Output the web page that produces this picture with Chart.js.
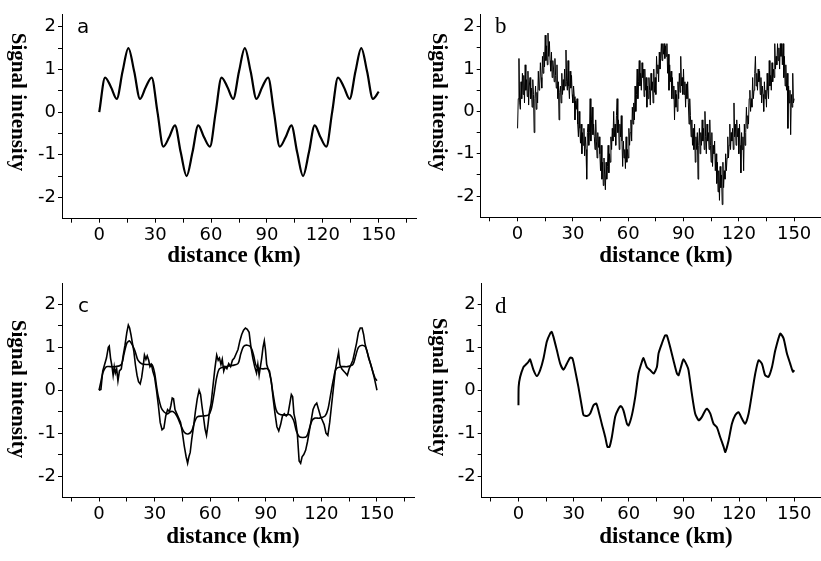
<!DOCTYPE html>
<html>
<head>
<meta charset="utf-8">
<script src="https://cdn.jsdelivr.net/npm/chart.js@4/dist/chart.umd.min.js"></script>
<style>
  html, body { margin: 0; padding: 0; background: #fff; }
  #page { position: relative; width: 821px; height: 561px; overflow: hidden; background: #fff; }
  canvas { position: absolute; }
</style>
</head>
<body>
<div id="page">
  <canvas id="chartA" width="420" height="270" style="left:0px;top:0px;"></canvas>
  <canvas id="chartB" width="430" height="270" style="left:410px;top:0px;"></canvas>
  <canvas id="chartC" width="420" height="291" style="left:0px;top:270px;"></canvas>
  <canvas id="chartD" width="430" height="291" style="left:410px;top:270px;"></canvas>
</div>
<script>
// axis ticks (km and signal units)
const xMajorTicks = [0, 30, 60, 90, 120, 150];
const xMinorTicks = [-15, 15, 45, 75, 105, 135, 165];
const yTickValues = [-2, -1.5, -1, -0.5, 0, 0.5, 1, 1.5, 2];

// a: clean signal, one reading every 3.125 km
const aStepKm = 3.125;
const aSignal = [
    0, 0.81, 0.59, 0.31, 0.95, 1.5, 0.95, 0.31, 0.59, 0.81,
    0, -0.81, -0.59, -0.31, -0.95, -1.5, -0.95, -0.31, -0.59, -0.81,
    0, 0.81, 0.59, 0.31, 0.95, 1.5, 0.95, 0.31, 0.59, 0.81,
    0, -0.81, -0.59, -0.31, -0.95, -1.5, -0.95, -0.31, -0.59, -0.81,
    0, 0.81, 0.59, 0.31, 0.95, 1.5, 0.95, 0.31, 0.48
];

// b: noisy signal, one reading every 0.375 km (8 readings per row = 3 km)
const bStepKm = 0.375;
const bSignal = [
    -0.4, 0.3, 1.25, 0.2, 0.05, 0.7, 0.3, 0.9,
    0.4, 0.85, 0.2, 1.1, 0.5, 0.75, 0.35, 0.95,
    0.15, 0.6, 0.8, 0.3, 0.55, 0.1, 0.75, 0.4,
    -0.5, 0.3, 0.6, 0.05, 0.45, 0.2, 0.95, 0.5,
    0.6, 1.15, 0.8, 0.55, 1.3, 0.9, 1.4, 1.05,
    1.8, 1.2, 1.55, 1.1, 1.85, 1.3, 1.65, 1.2,
    0.95, 1.4, 0.8, 1.2, 1.0, 0.7, 1.25, 0.85,
    0.55, 1.1, 0.3, 0.7, -0.2, 0.45, 0.6, 0.2,
    0.9, 0.4, 0.75, 0.5, 1.0, 0.6, 1.45, 0.7,
    0.5, 1.2, 0.6, 0.3, 0.95, 0.55, 0.85, 0.4,
    0.2, 0.6, 0.35, -0.2, 0.25, 0.05, 0.3, -0.3,
    -0.6, 0.0, -0.4, -0.75, -0.3, -1.0, -0.5, -0.8,
    -0.4, -1.05, -0.6, -0.9, -1.6, -0.5, -0.3, -0.8,
    -0.5, 0.3, -0.7, -0.2, 0.1, -0.55, -0.3, -0.6,
    -0.9, -0.2, -0.7, -1.1, -0.5, -0.85, -0.6, -1.0,
    -1.4, -0.8, -1.6, -1.2, -1.75, -1.1, -1.5, -1.85,
    -1.2, -1.6, -1.3, -0.8, -1.45, -1.0, -1.2, -0.6,
    -0.9, -0.4, -0.7, 0.0, -0.6, -0.3, -0.8, -0.1,
    0.3, -0.5, -0.2, -0.9, -0.3, -0.6, -0.1, -0.7,
    -1.3, -0.7, -1.1, -0.9, -1.35, -0.6, -1.2, -0.9,
    -1.1, -0.4, -0.8, -0.5, -0.2, -0.7, 0.1, -0.3,
    0.2, -0.2, 0.6, 0.0, 0.4, 1.0, 0.3, 0.7,
    1.2, 0.6, 0.9, 0.5, 1.15, 0.8, 1.0, 0.35,
    1.0, 0.5, 0.8, 0.1, 0.6, 0.3, 0.8, 0.5,
    0.15, 0.9, 0.5, 0.7, 0.2, 1.0, 0.45, 0.8,
    0.4, 1.3, 0.9, 1.1, 0.7, 1.4, 1.0, 1.25,
    1.6, 1.2, 1.6, 1.35, 1.6, 1.25, 1.55, 1.3,
    1.6, 0.9, 1.35, 0.5, 1.1, 0.7, 0.95, 0.3,
    0.8, 0.3, 0.6, -0.2, 0.5, 0.1, 0.4, 0.0,
    0.7, 0.3, 0.9, 0.45, 1.3, 0.6, 0.8, 0.4,
    1.0, 0.4, 0.7, 0.1, 0.65, 0.3, 0.7, 0.2,
    -0.3, 0.3, -0.1, -0.6, -0.2, -0.8, -0.4, -0.9,
    -0.3, -1.2, -0.6, -0.9, -0.5, -1.6, -0.8, -0.4,
    -1.0, -0.5, -0.8, -0.2, -0.7, -0.4, -0.9, 0.0,
    -0.6, -1.0, -0.3, -0.7, -0.5, -0.9, -0.2, -0.8,
    -1.2, -0.5, -1.3, -0.8, -1.0, -0.7, -1.4, -1.0,
    -1.7, -1.2, -1.9, -1.4, -2.1, -1.3, -1.8, -1.5,
    -2.2, -1.2, -1.8, -1.4, -1.6, -1.0, -1.4, -1.1,
    -0.6, -1.1, -0.8, -0.3, -0.9, -0.5, -0.7, -0.4,
    -0.9, 0.2, -0.6, -0.3, -0.8, -0.2, -0.6, -0.4,
    -1.0, -0.3, -0.8, -1.45, -0.5, -0.9, -0.6, -1.4,
    -0.3, -0.8, -0.5, 0.1, -0.4, -0.1, -0.3, 0.3,
    0.5, 0.0, 0.3, 0.1, 0.8, 0.3, 0.5, 0.9,
    1.3, 0.6, 0.9, 0.5, 1.0, 0.7, 0.95, 0.4,
    0.8, 0.2, 0.6, 0.4, 0.0, 0.7, 0.3, 0.5,
    0.1, 0.9, 0.5, 0.3, 1.2, 0.6, 0.85, 0.5,
    1.15, 0.7, 1.0, 0.8, 1.6, 1.0, 1.3, 1.1,
    1.6, 1.2, 1.5, 1.0, 1.6, 1.3, 1.6, 1.1,
    1.6, 0.8, 1.3, 0.6, 1.1, 0.5, 0.9, -0.4,
    0.6, 0.2, 0.5, -0.55, 0.4, 0.1, 0.9, 0.2,
    0.3
];

// c: denoised signal [km, value]
const cDenoised = [
    [0,0],[1,0.02],[2,0.45],[3,0.6],[4,0.75],[5,1.0],[5.5,1.03],[6.2,0.75],[7,0.55],[7.6,0.35],
    [8.2,0.55],[8.8,0.4],[9.5,0.5],[10.2,0.22],[11,0.45],[12,0.5],[13,0.8],[14,1.05],[15,1.35],[15.8,1.52],
    [16.5,1.45],[17.2,1.3],[18,1.1],[18.8,0.9],[19.6,0.6],[20.5,0.35],[21.3,0.2],[22.2,0.15],[23,0.3],[23.8,0.55],
    [24.5,0.82],[25.3,0.72],[26,0.8],[26.8,0.7],[27.5,0.55],[28.3,0.6],[29,0.45],[30,0.3],[31,0.0],[32,-0.35],
    [33,-0.75],[34,-0.92],[35,-0.88],[36,-0.6],[37,-0.45],[38,-0.5],[38.8,-0.35],[39.5,-0.18],[40.2,-0.2],[41,-0.45],
    [42,-0.55],[43,-0.65],[44,-0.75],[45,-1.0],[46,-1.3],[47,-1.55],[47.8,-1.7],[48.5,-1.55],[49.2,-1.45],[50,-1.15],
    [51,-0.85],[52,-0.5],[53,-0.2],[54,0.0],[54.8,-0.1],[55.5,-0.35],[56.3,-0.6],[57.2,-0.9],[58,-1.05],[58.8,-0.8],
    [59.6,-0.5],[60.5,-0.3],[61.5,0.1],[62.5,0.5],[63.5,0.82],[64.3,0.7],[65,0.75],[65.8,0.6],[66.5,0.72],[67.3,0.45],
    [68,0.55],[69,0.5],[70,0.62],[71,0.55],[72,0.7],[73,0.75],[74,0.85],[75,0.95],[76,1.15],[77,1.3],
    [78,1.4],[79,1.45],[80,1.42],[81,1.35],[82,1.0],[83,0.75],[84,0.55],[85,0.4],[85.7,0.6],[86.4,0.35],
    [87.1,0.55],[87.8,0.75],[88.5,1.0],[89.2,1.15],[89.8,0.95],[90.5,0.6],[91.2,0.5],[92,0.45],[93,0.2],[94,-0.2],
    [95,-0.55],[96,-0.85],[97,-0.95],[98,-0.8],[99,-0.6],[100,-0.55],[101,-0.6],[102,-0.55],[103,-0.3],[103.8,-0.1],
    [104.5,-0.15],[105.2,-0.55],[106,-0.7],[107,-1.0],[108,-1.65],[108.8,-1.7],[109.6,-1.55],[110.5,-1.5],[111.5,-1.4],[112.5,-1.2],
    [113.5,-0.95],[114.5,-0.7],[115.5,-0.45],[116.5,-0.35],[117.5,-0.3],[118.5,-0.45],[119.5,-0.6],[120.5,-0.7],[121.5,-0.8],[122.5,-1.0],
    [123.5,-1.05],[124.5,-0.75],[125.5,-0.35],[126.5,0.05],[127.5,0.45],[128.5,0.7],[129.3,0.88],[130,0.6],[131,0.5],[132,0.45],
    [133,0.4],[134,0.35],[135,0.5],[136,0.6],[137,0.7],[138,0.9],[139,1.1],[140,1.35],[141,1.45],[142,1.45],
    [142.8,1.3],[143.5,1.1],[144.3,0.95],[145,0.85],[146,0.7],[147,0.55],[148,0.4],[149,0.28],[150,0.22]
];

// c: smoothed (stepped) signal [km, value]
const cSmoothed = [
    [0,0],[1,0.2],[2,0.4],[3,0.5],[4,0.55],[6,0.55],[9,0.55],[12,0.6],[13.5,0.85],[15,1.1],
    [16.5,1.15],[18,1.05],[19.5,0.9],[21,0.7],[23,0.62],[26,0.6],[28.5,0.6],[30,0.4],[31,0.1],[32,-0.15],
    [33.5,-0.4],[35,-0.5],[37,-0.55],[38.5,-0.5],[40,-0.5],[42,-0.6],[44,-0.8],[46,-0.98],[48,-1.02],[50,-0.95],
    [51.5,-0.75],[53,-0.62],[56,-0.6],[59,-0.58],[60.5,-0.45],[62,-0.1],[63.5,0.3],[65,0.5],[68,0.55],[72,0.58],
    [75,0.62],[76.5,0.85],[78,1.02],[80,1.05],[82,1.0],[83.5,0.8],[85,0.55],[88,0.5],[91,0.5],[92.5,0.3],
    [94,-0.1],[95.5,-0.45],[97,-0.55],[100,-0.58],[103,-0.57],[105,-0.7],[106.5,-0.95],[108,-1.08],[110,-1.1],[112,-1.08],
    [113.5,-0.9],[115,-0.7],[116.5,-0.65],[119,-0.65],[122,-0.6],[123.5,-0.45],[125,-0.1],[126.5,0.25],[128,0.5],[131,0.55],
    [134,0.55],[137,0.6],[138.5,0.8],[140,1.0],[142,1.05],[144,1.0],[145.5,0.75],[147,0.55],[148.5,0.3],[150,0.0]
];

// d: reconstructed signal [km, value]
const dSignal = [
    [0,-0.35],[0.1,0.08],[0.9,0.31],[2.7,0.54],[3.6,0.58],[5.4,0.66],[6.3,0.72],[8.2,0.47],[10,0.33],[11.8,0.47],
    [13.6,0.74],[15.4,1.13],[17.2,1.32],[18.1,1.36],[19,1.25],[20.9,0.93],[22.7,0.62],[24.5,0.48],[26.3,0.62],[28.1,0.76],
    [29.4,0.74],[30.8,0.47],[32.6,0.08],[34.5,-0.39],[35.4,-0.58],[37.2,-0.6],[39,-0.54],[40.8,-0.35],[42.3,-0.31],[43.5,-0.47],
    [45.3,-0.78],[47.2,-1.09],[48.4,-1.32],[49.5,-1.32],[50.8,-1.09],[52.6,-0.62],[54.4,-0.43],[55.7,-0.37],[57.1,-0.47],[59,-0.78],
    [59.9,-0.82],[61.7,-0.58],[63.5,-0.16],[65.3,0.39],[67.1,0.66],[68,0.75],[69.8,0.54],[71.6,0.47],[73.5,0.39],[75.3,0.54],
    [76.2,0.86],[78,1.09],[79.8,1.28],[80.7,1.28],[82.5,1.01],[84.3,0.7],[86.2,0.39],[87.1,0.35],[88.9,0.62],[89.8,0.72],
    [91.6,0.58],[92.5,0.47],[94.3,-0.08],[96.1,-0.54],[98,-0.7],[99.8,-0.62],[101.6,-0.47],[102.5,-0.43],[104.3,-0.54],[106.1,-0.78],
    [107.9,-0.86],[109.7,-1.09],[111.6,-1.32],[112.5,-1.44],[114.3,-1.17],[116.1,-0.78],[117.9,-0.58],[119.7,-0.51],[121.5,-0.66],[123.3,-0.78],
    [125.2,-0.54],[127,-0.08],[128.8,0.39],[130.6,0.7],[132.4,0.62],[134.2,0.35],[136,0.31],[137.9,0.54],[139.7,0.93],[142.4,1.32],
    [144.2,1.21],[146,0.86],[147.8,0.62],[149.3,0.43],[150,0.47]
];

const xTitle = "distance (km)";
const yTitle = "Signal intensity";

function toPoints(pairs) {
    return pairs.map(p => ({x: p[0], y: p[1]}));
}
function stepPoints(values, step) {
    return values.map((v, i) => ({x: i * step, y: v}));
}

// draws the panel letter and the two axis titles
const panelText = {
    id: "panelText",
    afterDraw(chart, args, o) {
        const ctx = chart.ctx;
        ctx.save();
        ctx.fillStyle = "#000";
        ctx.font = o.letterFont;
        ctx.textAlign = "left";
        ctx.textBaseline = "alphabetic";
        ctx.fillText(o.letter, o.letterX, o.letterY);

        ctx.font = "bold 23px 'Liberation Serif', 'Times New Roman', serif";
        ctx.textAlign = "center";
        ctx.textBaseline = "middle";
        ctx.fillText(xTitle, o.xTitleX, o.xTitleY);

        ctx.font = "bold 21px 'Liberation Serif', 'Times New Roman', serif";
        ctx.translate(o.yTitleX, o.yTitleY);
        ctx.rotate(Math.PI / 2);
        ctx.fillText(yTitle, 0, 0);
        ctx.restore();
    }
};

function makePanel(id, datasets, box, text) {
    const tickFont = {family: "'DejaVu Sans', sans-serif", size: 18};
    const allXTicks = xMajorTicks.concat(xMinorTicks).sort((a, b) => a - b);
    return new Chart(document.getElementById(id), {
        type: "line",
        data: {datasets: datasets},
        options: {
            responsive: false,
            animation: false,
            devicePixelRatio: 1,
            layout: {padding: {left: 0, top: box.top, right: box.right, bottom: 0}},
            plugins: {
                legend: {display: false},
                tooltip: {enabled: false},
                panelText: text
            },
            elements: {point: {radius: 0}},
            scales: {
                x: {
                    type: "linear",
                    min: -20,
                    max: 170,
                    afterBuildTicks: s => { s.ticks = allXTicks.map(v => ({value: v})); },
                    afterFit: s => { s.height = box.xHeight; s.paddingLeft = 0; s.paddingRight = 0; },
                    ticks: {
                        callback: v => (v % 30 === 0 ? String(v) : ""),
                        font: tickFont,
                        color: "#000",
                        padding: 2,
                        maxRotation: 0,
                        autoSkip: false
                    },
                    grid: {drawOnChartArea: false, drawTicks: true, tickLength: 4, color: "#000", lineWidth: 1},
                    border: {display: true, color: "#000", width: 1}
                },
                y: {
                    type: "linear",
                    min: -2.5,
                    max: box.yMax,
                    afterBuildTicks: s => { s.ticks = yTickValues.map(v => ({value: v})); },
                    afterFit: s => { s.width = box.yWidth; s.paddingTop = 0; s.paddingBottom = 0; },
                    ticks: {
                        callback: v => (Number.isInteger(v) ? String(v) : ""),
                        font: tickFont,
                        color: "#000",
                        padding: 2,
                        autoSkip: false
                    },
                    grid: {drawOnChartArea: false, drawTicks: true, tickLength: 4, color: "#000", lineWidth: 1},
                    border: {display: true, color: "#000", width: 1}
                }
            }
        },
        plugins: [panelText]
    });
}

const sansLetter = "20px 'DejaVu Sans', sans-serif";
const serifLetter = "23px 'Liberation Serif', serif";

makePanel("chartA", [{
    data: stepPoints(aSignal, aStepKm),
    borderColor: "#000",
    borderWidth: 2.2,
    fill: false,
    cubicInterpolationMode: "monotone"
}], {top: 14, right: 4, xHeight: 51.3, yWidth: 62, yMax: 2.3},
{letter: "a", letterFont: sansLetter, letterX: 77, letterY: 33, xTitleX: 234, xTitleY: 256, yTitleX: 17, yTitleY: 102});

makePanel("chartB", [{
    data: stepPoints(bSignal, bStepKm),
    borderColor: "#000",
    borderWidth: 1,
    fill: false,
    tension: 0
}], {top: 14, right: 9, xHeight: 52.7, yWidth: 70.7, yMax: 2.3},
{letter: "b", letterFont: serifLetter, letterX: 85, letterY: 33, xTitleX: 256, xTitleY: 256, yTitleX: 28, yTitleY: 102});

makePanel("chartC", [{
    data: toPoints(cDenoised),
    borderColor: "#000",
    borderWidth: 1.6,
    fill: false,
    tension: 0
}, {
    data: toPoints(cSmoothed),
    borderColor: "#000",
    borderWidth: 1.6,
    fill: false,
    tension: 0.3
}], {top: 13, right: 6, xHeight: 63.5, yWidth: 62, yMax: 2.5},
{letter: "c", letterFont: sansLetter, letterX: 78, letterY: 42, xTitleX: 233, xTitleY: 267, yTitleX: 17, yTitleY: 119});

makePanel("chartD", [{
    data: toPoints(dSignal),
    borderColor: "#000",
    borderWidth: 2,
    fill: false,
    tension: 0.2
}], {top: 13, right: 9, xHeight: 63.5, yWidth: 71.7, yMax: 2.5},
{letter: "d", letterFont: serifLetter, letterX: 85, letterY: 43, xTitleX: 256, xTitleY: 267, yTitleX: 28, yTitleY: 117});
</script>
</body>
</html>
